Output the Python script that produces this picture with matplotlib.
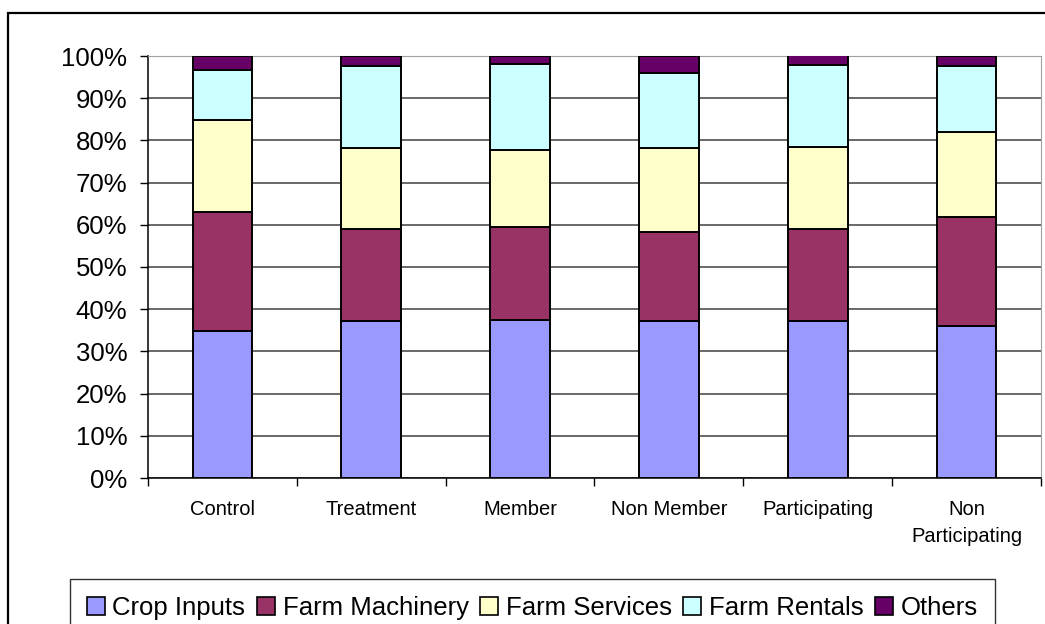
import matplotlib
matplotlib.use('AGG')
import matplotlib.pyplot as plt
from matplotlib.patches import Rectangle, Patch
import numpy as np

groups = ['Control', 'Treatment', 'Member', 'Non Member', 'Participating', 'Non\nParticipating']
series = ['Crop Inputs', 'Farm Machinery', 'Farm Services', 'Farm Rentals', 'Others']
crop_inputs = [34.8, 37.2, 37.4, 37.2, 37.2, 36.0]
farm_machinery = [28.2, 21.8, 22.1, 21.1, 21.8, 25.8]
farm_services = [21.8, 19.2, 18.2, 19.9, 19.4, 20.2]
farm_rentals = [11.9, 19.4, 20.4, 17.8, 19.4, 15.6]
others = [3.3, 2.4, 1.9, 4.0, 2.4, 2.4]
colors = ['#9999FF', '#993366', '#FFFFCC', '#CCFFFF', '#660066']


def main():
    plt.rcParams['font.family'] = ['Liberation Sans', 'DejaVu Sans']
    fig = plt.figure(figsize=(10.45, 6.24), dpi=100)
    ax = fig.add_axes([148/1045, 1 - 478/624, (1041 - 148)/1045, (478 - 56)/624])

    data = np.array([crop_inputs, farm_machinery, farm_services, farm_rentals, others])
    x = np.arange(len(groups))
    bottom = np.zeros(len(groups))
    for vals, name, col in zip(data, series, colors):
        ax.bar(x, vals, 0.4, bottom=bottom, color=col, edgecolor='black', linewidth=1.4, label=name, zorder=3)
        bottom += vals

    ax.set_xlim(-0.5, len(groups) - 0.5)
    ax.set_ylim(0, 100)
    ax.set_yticks(np.arange(0, 101, 10))
    ax.set_yticklabels(['%d%%' % v for v in range(0, 101, 10)], fontsize=18.5)
    ax.yaxis.grid(True, color='#404040', linewidth=1.1, zorder=0)
    ax.tick_params(axis='y', length=6, width=1, pad=9)

    ax.set_xticks(x)
    ax.set_xticklabels(groups, fontsize=14.5, linespacing=1.55)
    ax.set_xticks(np.arange(len(groups) + 1) - 0.5, minor=True)
    ax.tick_params(axis='x', which='major', length=0, pad=16)
    ax.tick_params(axis='x', which='minor', length=6, width=1)

    ax.spines['top'].set_color('#a0a0a0')
    ax.spines['right'].set_color('#a0a0a0')
    ax.spines['left'].set_linewidth(1.1)
    ax.spines['bottom'].set_linewidth(1.1)

    # outer chart frame, runs off the right and bottom edges
    fig.patches.append(Rectangle((8/1045, -0.1), 1.1, 1 - 13/624 + 0.1, transform=fig.transFigure,
                                 fill=False, edgecolor='black', linewidth=1.6))

    handles = [Patch(facecolor=c, edgecolor='black', linewidth=1.2) for c in colors]
    leg = fig.legend(handles, series, loc='upper left', bbox_to_anchor=(70/1045, 1 - 579/624),
                     ncol=5, fontsize=18.5, frameon=True, fancybox=False, edgecolor='black',
                     handlelength=0.7, handleheight=0.7, handletextpad=0.3, columnspacing=0.45,
                     borderpad=0.65, borderaxespad=0)
    leg.get_frame().set_linewidth(1.0)

    fig.savefig('out.png', dpi=100)


if "__main__" in __name__:
    main()
